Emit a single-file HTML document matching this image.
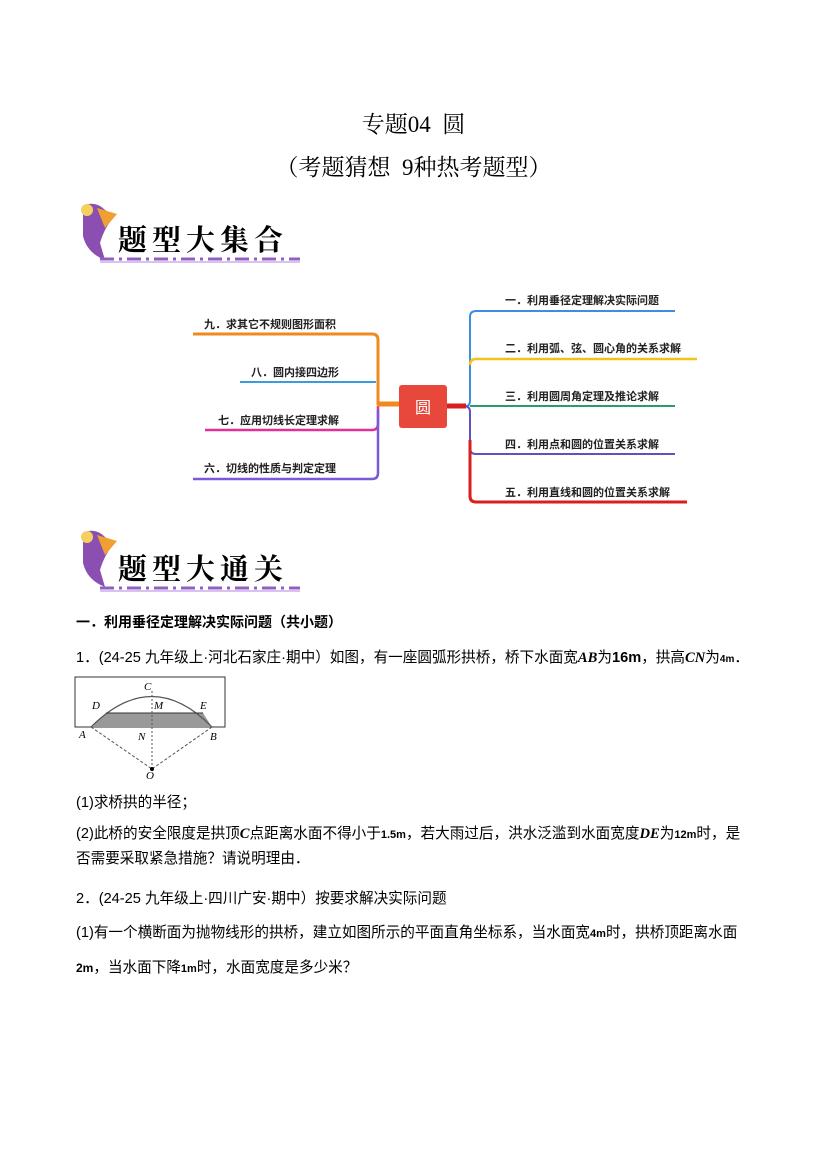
<!DOCTYPE html>
<html><head><meta charset="utf-8"><style>
body{margin:0;background:#fff;}
.pg{position:relative;width:827px;height:1169px;overflow:hidden;font-family:"Liberation Serif","Noto Serif CJK SC","Noto Sans CJK SC",serif;color:#000;}
.t{position:absolute;white-space:nowrap;}
.s{font-family:"Liberation Sans","Noto Sans CJK SC",sans-serif;font-size:14.6px;}
.ml{position:absolute;font-family:"Liberation Sans","Noto Sans CJK SC",sans-serif;font-size:11px;color:#222;white-space:nowrap;font-weight:bold;}
b i{font-family:"Liberation Serif",serif;}
</style></head><body><div class="pg">
<div class="t" style="left:0;width:827px;text-align:center;top:106px;font-size:23px;">专题04&nbsp;&nbsp;圆</div>
<div class="t" style="left:0;width:827px;text-align:center;top:149px;font-size:23px;">（考题猜想&nbsp;&nbsp;9种热考题型）</div>

<svg style="position:absolute;left:75px;top:198px" width="230" height="70">
<path d="M8 8 Q20 2 30 12 L40 18 Q30 28 25 45 L30 62 Q12 55 8 38 Z" fill="#8a4fb0"/>
<path d="M22 10 L42 16 L30 30 Z" fill="#f0a030"/>
<circle cx="12" cy="12" r="6" fill="#f4d060"/>
<line x1="25" y1="61" x2="225" y2="61" stroke="#9060c0" stroke-width="3" stroke-dasharray="14,5,3,5"/>
<line x1="25" y1="64" x2="225" y2="64" stroke="#d8c0f0" stroke-width="2"/>
</svg>
<div class="t" style="left:118px;top:218px;font-size:29px;font-weight:bold;letter-spacing:5px;font-family:'Noto Serif CJK SC',serif;">题型大集合</div>

<svg style="position:absolute;left:0;top:0" width="827" height="560">
<g fill="none" stroke-width="2">
<path d="M193 334 H372 Q378 334 378 340 V404 H400" stroke="#f08a1e" stroke-width="3"/>
<path d="M240 382 H376" stroke="#3b9ae0"/>
<path d="M205 430 H372 Q378 430 378 424 V406" stroke="#e0309a" stroke-width="2.5"/>
<path d="M193 479 H372 Q378 479 378 473 V410" stroke="#7a5ad8" stroke-width="2.5"/>
<path d="M447 406 H466 Q470 406 470 400 V317 Q470 311 476 311 H675" stroke="#3b8ee0"/>
<path d="M470 365 Q470 359 476 359 H697" stroke="#f2c21a" stroke-width="2.5"/>
<path d="M470 406 H675" stroke="#2e9a6a"/>
<path d="M447 406 H464 Q470 406 470 412 V448 Q470 454 476 454 H675" stroke="#6050c8"/>
<path d="M470 440 V496 Q470 502 476 502 H687" stroke="#d81e1e" stroke-width="3"/>
<path d="M447 406 H466" stroke="#d81e1e" stroke-width="5"/>
<path d="M378 404 H400" stroke="#f08a1e" stroke-width="5"/>
</g>
<rect x="399" y="385" width="48" height="43" rx="3" fill="#e8473c"/>
<text x="423" y="413" text-anchor="middle" fill="#fff" font-size="16" font-family="Noto Sans CJK SC,sans-serif">圆</text>
</svg>
<div class="ml" style="left:204px;top:316px;">九．求其它不规则图形面积</div>
<div class="ml" style="left:251px;top:364px;">八．圆内接四边形</div>
<div class="ml" style="left:218px;top:412px;">七．应用切线长定理求解</div>
<div class="ml" style="left:204px;top:460px;">六．切线的性质与判定定理</div>
<div class="ml" style="left:505px;top:292px;">一．利用垂径定理解决实际问题</div>
<div class="ml" style="left:505px;top:340px;">二．利用弧、弦、圆心角的关系求解</div>
<div class="ml" style="left:505px;top:388px;">三．利用圆周角定理及推论求解</div>
<div class="ml" style="left:505px;top:436px;">四．利用点和圆的位置关系求解</div>
<div class="ml" style="left:505px;top:484px;">五．利用直线和圆的位置关系求解</div>

<svg style="position:absolute;left:75px;top:525px" width="230" height="70">
<path d="M8 8 Q20 2 30 12 L40 18 Q30 28 25 45 L30 62 Q12 55 8 38 Z" fill="#8a4fb0"/>
<path d="M22 10 L42 16 L30 30 Z" fill="#f0a030"/>
<circle cx="12" cy="12" r="6" fill="#f4d060"/>
<line x1="25" y1="63" x2="225" y2="63" stroke="#9060c0" stroke-width="3" stroke-dasharray="14,5,3,5"/>
<line x1="25" y1="66" x2="225" y2="66" stroke="#d8c0f0" stroke-width="2"/>
</svg>
<div class="t" style="left:118px;top:547px;font-size:29px;font-weight:bold;letter-spacing:5px;font-family:'Noto Serif CJK SC',serif;">题型大通关</div>

<div class="t s" style="left:76px;top:612px;font-weight:bold;font-size:14px;">一．利用垂径定理解决实际问题（共小题）</div>
<div class="t s" style="left:76px;top:646px;">1．(24-25 九年级上·河北石家庄·期中）如图，有一座圆弧形拱桥，桥下水面宽<b><i>AB</i></b>为<b>16m</b>，拱高<b><i>CN</i></b>为<b style="font-size:10px">4m</b>．</div>

<svg style="position:absolute;left:74px;top:676px" width="155" height="104" font-family="Liberation Serif,serif" font-style="italic" font-size="11">
<rect x="1" y="1" width="150" height="50" fill="none" stroke="#333"/>
<path d="M32 37 L129 37 L138 51 L17 51 Z" fill="#999"/>
<path d="M17 51 Q78 -10 138 51" fill="none" stroke="#555" stroke-width="1.2"/>
<line x1="32" y1="37" x2="129" y2="37" stroke="#333"/>
<line x1="78" y1="15" x2="78" y2="93" stroke="#555" stroke-dasharray="2,2"/>
<line x1="17" y1="51" x2="78" y2="93" stroke="#555" stroke-dasharray="3,2"/>
<line x1="138" y1="51" x2="78" y2="93" stroke="#555" stroke-dasharray="3,2"/>
<circle cx="78" cy="93" r="2" fill="#000"/>
<text x="70" y="14">C</text><text x="18" y="33">D</text><text x="80" y="33">M</text><text x="126" y="33">E</text>
<text x="5" y="62">A</text><text x="64" y="64">N</text><text x="136" y="64">B</text><text x="72" y="103">O</text>
</svg>

<div class="t s" style="left:76px;top:791px;">(1)求桥拱的半径；</div>
<div class="t s" style="left:76px;top:822px;">(2)此桥的安全限度是拱顶<b><i>C</i></b>点距离水面不得小于<b style="font-size:11px">1.5m</b>，若大雨过后，洪水泛滥到水面宽度<b><i>DE</i></b>为<b style="font-size:11px">12m</b>时，是</div>
<div class="t s" style="left:76px;top:847px;">否需要采取紧急措施？请说明理由．</div>
<div class="t s" style="left:76px;top:887px;">2．(24-25 九年级上·四川广安·期中）按要求解决实际问题</div>
<div class="t s" style="left:76px;top:921px;">(1)有一个横断面为抛物线形的拱桥，建立如图所示的平面直角坐标系，当水面宽<b style="font-size:11px">4m</b>时，拱桥顶距离水面</div>
<div class="t s" style="left:76px;top:956px;"><b style="font-size:12px">2m</b>，当水面下降<b style="font-size:11px">1m</b>时，水面宽度是多少米？</div>
</div></body></html>
